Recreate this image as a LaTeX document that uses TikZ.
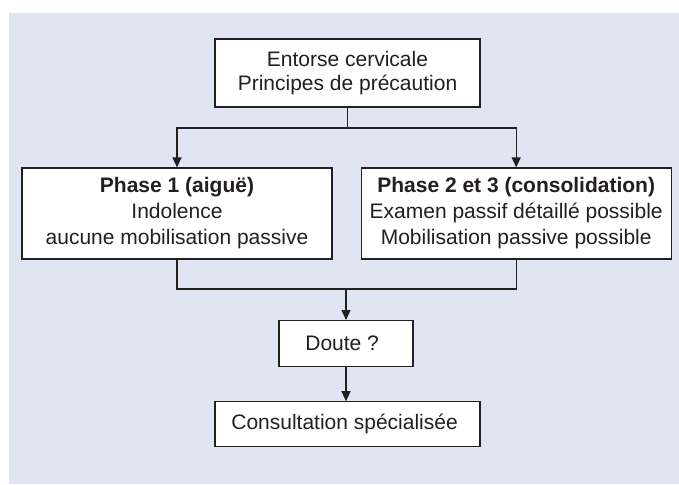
\documentclass[tikz,border=0pt]{standalone}
\usepackage{fontspec}
\setmainfont{Liberation Sans}
\usetikzlibrary{positioning, arrows.meta}
\definecolor{bgblue}{HTML}{DFE5F2}
\definecolor{linegray}{HTML}{231F20}

\begin{document}
\begin{tikzpicture}[
		x=1pt, y=-1pt,
		node distance=30pt,
		box/.style={
			rectangle,
			draw=linegray,
			fill=white,
			line width=1.2pt,
			align=center,
			inner sep=0pt,
			text=linegray,
			font=\fontsize{21}{24}\selectfont
		},
		phasebox/.style={
			box,
			minimum width=310pt,
			minimum height=91pt,
			font=\fontsize{21}{26}\selectfont
		},
		arrow/.style={
			-{Triangle[length=10pt,width=9pt]},
			line width=1.2pt,
			draw=linegray
		},
		link/.style={
			line width=1.2pt,
			draw=linegray
		}
		]
		
		\fill[bgblue] (9,13) rectangle (679,484);
		\useasboundingbox (0,0) rectangle (679,484);
		
		\node[box, minimum width=265pt, minimum height=68pt] (cervical) at (347.5,73) {
			Entorse cervicale\\
			Principes de précaution
		};
		
		\node[phasebox] (phaseone) at (177,213.5) {
			\textbf{Phase 1 (aiguë)}\\
			Indolence\\
			aucune mobilisation passive
		};
		
		\node[phasebox, right=28pt of phaseone] (phasetwo) {
			\textbf{Phase 2 et 3 (consolidation)}\\
			Examen passif détaillé possible\\
			Mobilisation passive possible
		};
		
		\coordinate (split) at (347.5,128);
		\coordinate (merge) at (346,289);
		
		\node[box, minimum width=134pt, minimum height=46pt, below=31pt of merge] (doubt) {
			Doute ?
		};
		
		\node[box, minimum width=265pt, minimum height=45pt, below=34pt of doubt, xshift=1.5pt] (consult) {
			Consultation spécialisée
		};
		
		\draw[link] (cervical) -- (split);
		\draw[arrow] (split) -| (phaseone);
		\draw[arrow] (split) -| (phasetwo);
		
		\draw[link] (phaseone) |- (merge);
		\draw[link] (phasetwo) |- (merge);
		\draw[arrow] (merge) -- (doubt);
		\draw[arrow] (doubt) -- (doubt |- consult.north);
		
	\end{tikzpicture}
\end{document}
